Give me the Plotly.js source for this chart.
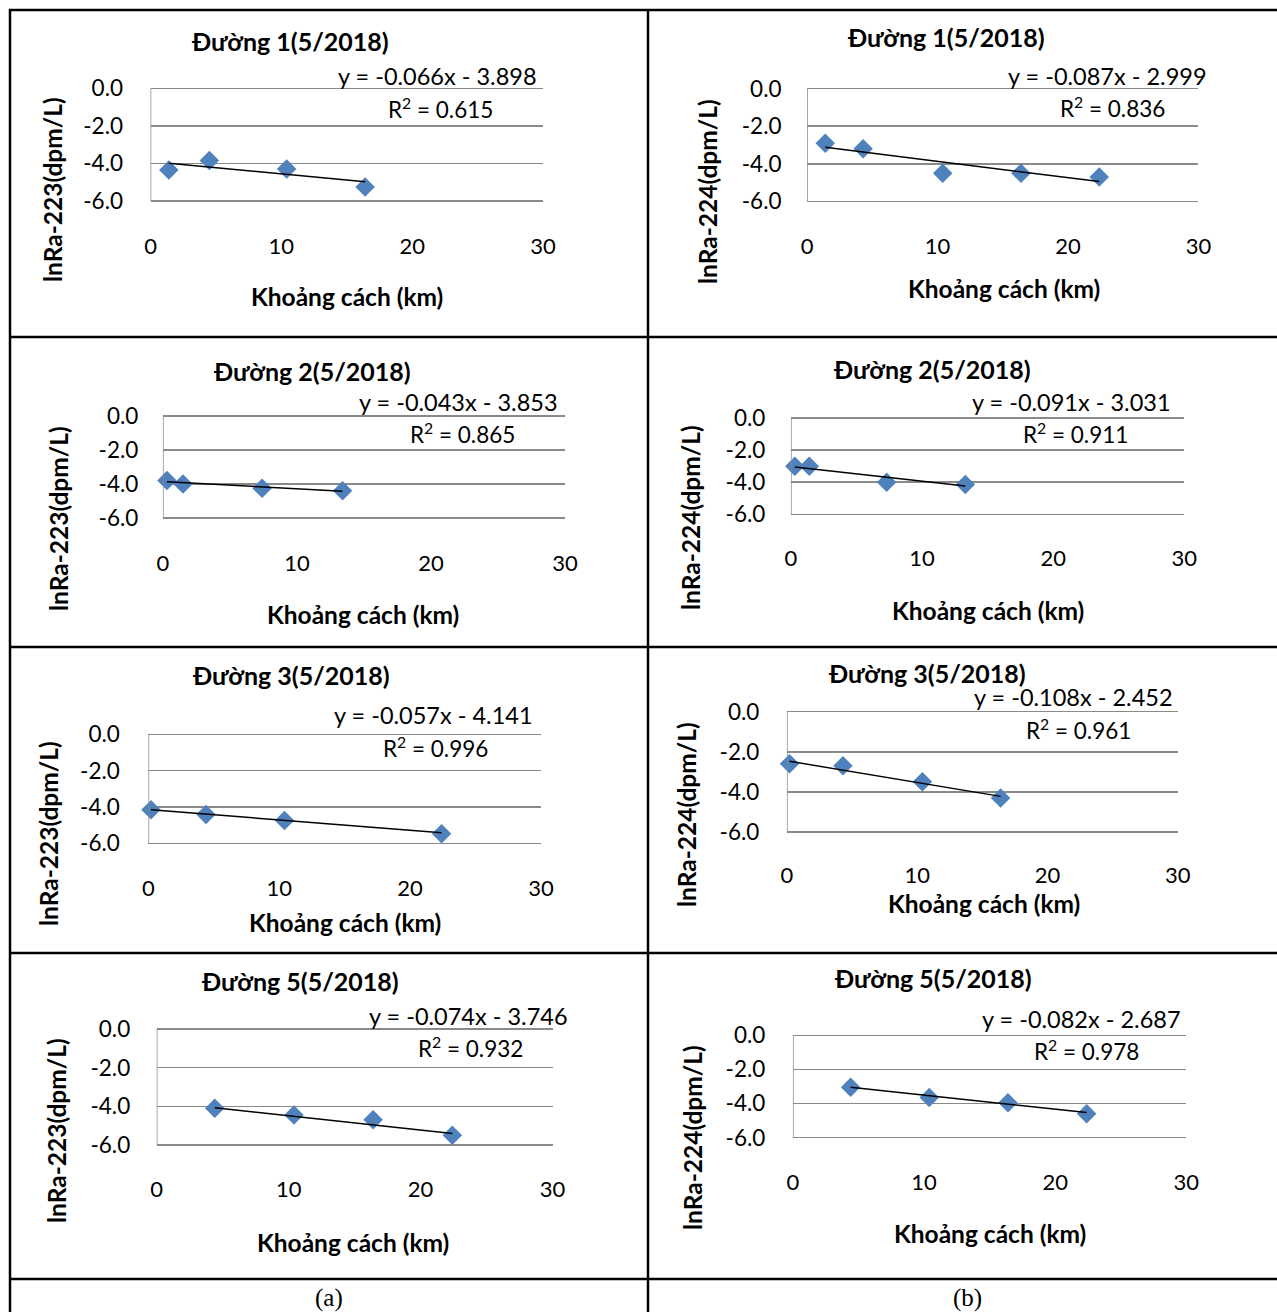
<!DOCTYPE html>
<html>
<head>
<meta charset="utf-8">
<script src="https://cdn.plot.ly/plotly-3.0.1.min.js"></script>
<style>
html,body{margin:0;padding:0;background:#fff;}
#chart{width:1277px;height:1312px;}
</style>
</head>
<body>
<div id="chart"></div>
<script>
// ---------------- DATA ----------------
const panelTitles = ['Đường 1(5/2018)','Đường 1(5/2018)','Đường 2(5/2018)','Đường 2(5/2018)',
                     'Đường 3(5/2018)','Đường 3(5/2018)','Đường 5(5/2018)','Đường 5(5/2018)'];
const yAxisTitles = ['lnRa-223(dpm/L)','lnRa-224(dpm/L)','lnRa-223(dpm/L)','lnRa-224(dpm/L)',
                     'lnRa-223(dpm/L)','lnRa-224(dpm/L)','lnRa-223(dpm/L)','lnRa-224(dpm/L)'];
const xAxisTitle = 'Khoảng cách (km)';

const distA1 = [1.4, 4.5, 10.4, 16.4];        const lnA1 = [-4.35, -3.85, -4.3, -5.25];
const distB1 = [1.4, 4.3, 10.4, 16.4, 22.4];  const lnB1 = [-2.9, -3.2, -4.5, -4.5, -4.7];
const distA2 = [0.3, 1.5, 7.4, 13.4];         const lnA2 = [-3.8, -4.0, -4.25, -4.4];
const distB2 = [0.3, 1.4, 7.3, 13.3];         const lnB2 = [-3.0, -3.0, -4.0, -4.15];
const distA3 = [0.2, 4.4, 10.4, 22.4];        const lnA3 = [-4.15, -4.42, -4.75, -5.47];
const distB3 = [0.2, 4.3, 10.4, 16.4];        const lnB3 = [-2.6, -2.7, -3.5, -4.3];
const distA5 = [4.4, 10.4, 16.4, 22.4];       const lnA5 = [-4.1, -4.45, -4.7, -5.5];
const distB5 = [4.4, 10.4, 16.4, 22.4];       const lnB5 = [-3.05, -3.65, -3.95, -4.6];

const slopes     = [-0.066, -0.087, -0.043, -0.091, -0.057, -0.108, -0.074, -0.082];
const intercepts = [-3.898, -2.999, -3.853, -3.031, -4.141, -2.452, -3.746, -2.687];
const rSquared   = [0.615, 0.836, 0.865, 0.911, 0.996, 0.961, 0.932, 0.978];

const xTickVals = [0, 10, 20, 30];
const xTickText = ['0', '10', '20', '30'];
const yTickVals = [0, -2, -4, -6];
const yTickText = ['0.0', '-2.0', '-4.0', '-6.0'];
const columnLabels = ['(a)', '(b)'];

// ---------------- LAYOUT (pixel geometry) ----------------
const W = 1277, H = 1312;
const fx = p => p / W;
const fy = p => 1 - p / H;

const dists = [distA1, distB1, distA2, distB2, distA3, distB3, distA5, distB5];
const lns   = [lnA1, lnB1, lnA2, lnB2, lnA3, lnB3, lnA5, lnB5];

// plot areas [left, right, top, bottom] in px
const boxes = [
  [150.5, 543.1, 88.3, 201],
  [807, 1198.4, 88.7, 201.3],
  [162.9, 565.1, 416, 518],
  [790.9, 1184.3, 418, 514.3],
  [148.4, 541, 734.3, 843.3],
  [786.9, 1177.8, 711.7, 832],
  [156.7, 552.6, 1029, 1145],
  [792.9, 1186.3, 1035.3, 1137.7]
];
const titlePos = [[290,41],[946,37],[312,371],[932,369],[291,675],[927,673],[300,981],[933,978]];
const eqPos    = [[539,76],[1209,76],[560,402],[1173,402],[535,715],[1175,697],[570,1016],[1183,1019]];
const r2Pos    = [[440,108],[1112,107],[463,433],[1075,433],[435,747],[1078,729],[470,1047],[1086,1050]];
const xtPos    = [[347,296],[1004,289],[363,614],[988,610],[345,922],[984,903],[353,1242],[990,1233]];
const ytPos    = [[53,190],[707,192],[58,518],[690,518],[49,834],[686,815],[56,1131],[692,1138]];
const xLabelOffset = [45, 44.7, 45, 43.7, 45, 43, 44, 44.3];
const yLabelGap = [27, 25, 24, 25, 28, 27, 26, 27];

const FONT = 'Lato, "Open Sans", sans-serif';
const GRID = '#8a8a8a';
const PAD = 0.15; // range padding so the edge gridlines (0 and -6) are drawn

const traces = [];
const annotations = [];
const layout = {
  width: W, height: H,
  margin: {l:0, r:0, t:0, b:0},
  paper_bgcolor: '#fff', plot_bgcolor: 'rgba(0,0,0,0)',
  showlegend: false,
  font: {family: FONT, color: '#000'},
  shapes: [],
  annotations: annotations
};

function fmt(v){ return v.toFixed(3); }

for (let i = 0; i < 8; i++) {
  const n = i === 0 ? '' : String(i + 1);
  const b = boxes[i];
  const ppu = (b[3] - b[2]) / 6; // px per unit
  layout['xaxis' + n] = {
    domain: [fx(b[0]), fx(b[1])], range: [0, 30], anchor: 'y' + n,
    tickmode: 'array', tickvals: xTickVals, ticktext: xTickText,
    showgrid: false, zeroline: false, showline: false, ticks: '',
    ticklabelstandoff: Math.round(xLabelOffset[i] - 15 - PAD * ppu),
    tickfont: {family: FONT, size: 22, color: '#000'}, fixedrange: true
  };
  layout['yaxis' + n] = {
    domain: [fy(b[3] + PAD * ppu), fy(b[2] - PAD * ppu)], range: [-6 - PAD, 0 + PAD], anchor: 'x' + n,
    tickmode: 'array', tickvals: yTickVals, ticktext: yTickText,
    showgrid: true, gridcolor: GRID, gridwidth: 1.5,
    showline: false, zeroline: false,
    ticks: 'outside', ticklen: yLabelGap[i] - 5, tickcolor: 'rgba(0,0,0,0)',
    tickfont: {family: FONT, size: 22.5, color: '#000'}, fixedrange: true
  };
  // left value-axis line from 0 to -6 (Excel style)
  layout.shapes.push({type:'line', xref:'x' + n, yref:'y' + n, x0: 0, x1: 0,
    y0: yTickVals[0], y1: yTickVals[yTickVals.length - 1], line:{color: GRID, width: 1.5}});

  const xs = dists[i], ys = lns[i];
  traces.push({
    type: 'scatter', mode: 'markers', x: xs, y: ys,
    xaxis: 'x' + n, yaxis: 'y' + n, cliponaxis: false,
    marker: {symbol: 'diamond', size: 15, color: '#4F81BD'},
    hoverinfo: 'skip'
  });
  const x0 = Math.min(...xs), x1 = Math.max(...xs);
  traces.push({
    type: 'scatter', mode: 'lines',
    x: [x0, x1], y: [slopes[i] * x0 + intercepts[i], slopes[i] * x1 + intercepts[i]],
    xaxis: 'x' + n, yaxis: 'y' + n, cliponaxis: false,
    line: {color: '#000', width: 1.5}, hoverinfo: 'skip'
  });

  annotations.push({xref:'paper', yref:'paper', x: fx(titlePos[i][0]), y: fy(titlePos[i][1]),
    xanchor:'center', yanchor:'middle', showarrow:false, text: '<b>' + panelTitles[i] + '</b>',
    font:{family: FONT, size: 25, color:'#000'}});
  const eq = 'y = ' + fmt(slopes[i]) + 'x - ' + fmt(Math.abs(intercepts[i]));
  annotations.push({xref:'paper', yref:'paper', x: fx(eqPos[i][0]), y: fy(eqPos[i][1]),
    xanchor:'right', yanchor:'middle', showarrow:false, text: eq,
    font:{family: FONT, size: 23.5, color:'#000'}});
  annotations.push({xref:'paper', yref:'paper', x: fx(r2Pos[i][0]), y: fy(r2Pos[i][1]),
    xanchor:'center', yanchor:'middle', showarrow:false,
    text: 'R<sup>2</sup> = ' + fmt(rSquared[i]),
    font:{family: FONT, size: 22.5, color:'#000'}});
  annotations.push({xref:'paper', yref:'paper', x: fx(xtPos[i][0]), y: fy(xtPos[i][1]),
    xanchor:'center', yanchor:'middle', showarrow:false, text: '<b>' + xAxisTitle + '</b>',
    font:{family: FONT, size: 24.5, color:'#000'}});
  annotations.push({xref:'paper', yref:'paper', x: fx(ytPos[i][0]), y: fy(ytPos[i][1]),
    xanchor:'center', yanchor:'middle', showarrow:false, textangle: -90, text: '<b>' + yAxisTitles[i] + '</b>',
    font:{family: FONT, size: 24.5, color:'#000'}});
}

annotations.push({xref:'paper', yref:'paper', x: fx(329), y: fy(1298), xanchor:'center', yanchor:'middle',
  showarrow:false, text: columnLabels[0], font:{family:'"Liberation Serif", serif', size:25, color:'#000'}});
annotations.push({xref:'paper', yref:'paper', x: fx(967), y: fy(1298), xanchor:'center', yanchor:'middle',
  showarrow:false, text: columnLabels[1], font:{family:'"Liberation Serif", serif', size:25, color:'#000'}});

// table frame lines
const hLines = [10, 337, 647, 953, 1279];
const vLines = [10, 648];
hLines.forEach(y => layout.shapes.push({type:'line', xref:'paper', yref:'paper',
  x0: fx(9), x1: fx(1280), y0: fy(y), y1: fy(y), line:{color:'#000', width:2.5}}));
vLines.forEach(x => layout.shapes.push({type:'line', xref:'paper', yref:'paper',
  x0: fx(x), x1: fx(x), y0: fy(9), y1: fy(1315), line:{color:'#000', width:2.5}}));

Plotly.newPlot('chart', traces, layout, {displayModeBar:false, staticPlot:true}).then(gd => {
  // drop empty placeholder text nodes (unused axis titles)
  gd.querySelectorAll('text').forEach(t => { if (!t.textContent.trim()) t.remove(); });
});
</script>
</body>
</html>
